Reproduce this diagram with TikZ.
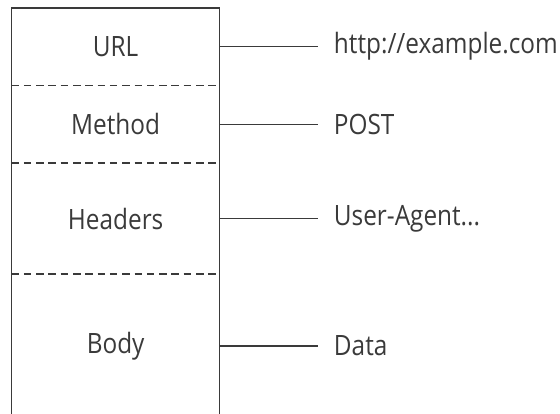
\documentclass[tikz,border=0pt]{standalone}
\usepackage{fontspec}
\setmainfont{Open Sans}[FakeStretch=0.87]
\usetikzlibrary{positioning}

\definecolor{ink}{HTML}{3A3A3A}

\begin{document}
\begin{tikzpicture}[x=1pt, y=-1pt, ink, line width=1.3pt,
    font=\fontsize{28}{32}\selectfont]
  \tikzstyle{field} = [rectangle, minimum width=207pt, inner sep=0pt,
    text centered, anchor=north west]
  \tikzstyle{value} = [rectangle, inner sep=0pt, anchor=west]
  \tikzstyle{divider} = [draw, dash pattern=on 7.5pt off 4.8pt]
  \tikzstyle{line} = [draw, shorten >=15pt]

  \useasboundingbox (0,0) rectangle (560,413);

  % Place nodes
  \node [field, minimum height=76pt] (url) at (11.5,8) {URL};
  \node [field, minimum height=76.5pt, below=0pt of url] (method) {Method};
  \node [field, minimum height=109.5pt, below=0pt of method] (headers) {Headers};
  \node [field, minimum height=143pt, below=0pt of headers] (body) {Body};

  \node [value, right=113.5pt of url] (urlval) {http://example.com};
  \node [value, right=113.5pt of method] (methodval) {POST};
  \node [value, right=113.5pt of headers] (headersval) {User-Agent...};
  \node [value, right=113.5pt of body] (bodyval) {Data};

  % Draw the outline
  \draw (body.south west) -- (url.north west) -- (url.north east) -- (body.south east);
  \path [divider] (url.south west) -- (url.south east);
  \path [divider] (method.south west) -- (method.south east);
  \path [divider] (headers.south west) -- (headers.south east);

  % Draw edges
  \path [line] (url) -- (urlval);
  \path [line] (method) -- (methodval);
  \path [line] (headers) -- (headersval);
  \path [line] (body) -- (bodyval);

\end{tikzpicture}
\end{document}
